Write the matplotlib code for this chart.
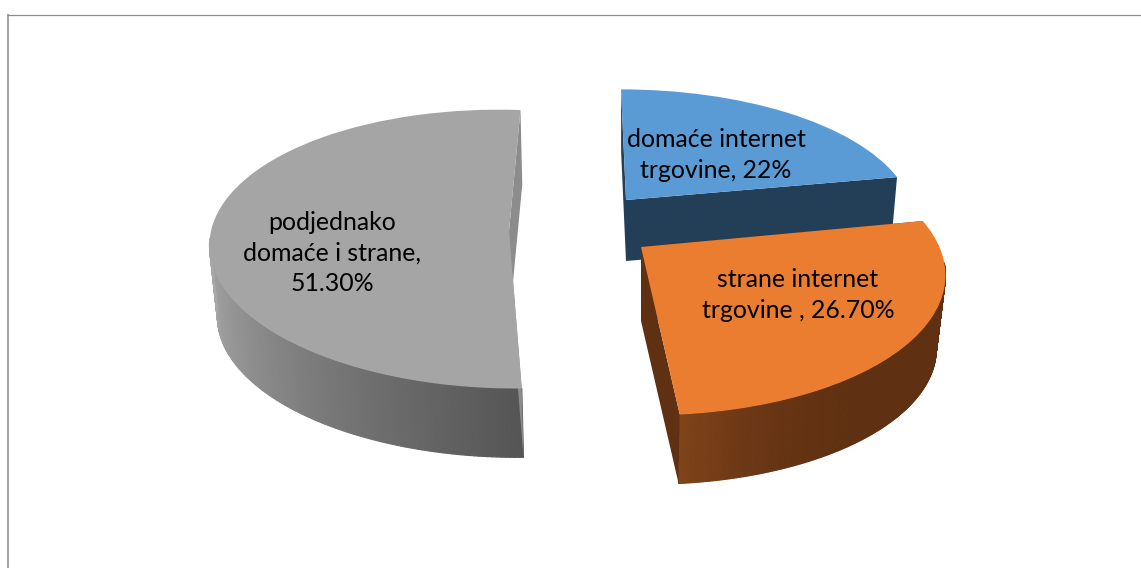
import numpy as np
import matplotlib
matplotlib.use("Agg")
import matplotlib.pyplot as plt
from matplotlib.collections import PolyCollection
from matplotlib.colors import to_rgb
from matplotlib.transforms import Transform

# --- data ---
categories = ["domaće internet\ntrgovine, 22%",
              "strane internet\ntrgovine , 26.70%",
              "podjednako\ndomaće i strane,\n51.30%"]
values = [22.0, 26.7, 51.3]

# --- styling / projection parameters (pixels) ---
top_colors = ["#5B9BD5", "#EB7D30", "#A5A5A5"]
cut_colors = ["#233F58", "#5F3012", "#8C8C8C"]
side_stops = [
    ["#233F58", "#233F58"],
    ["#5F3011", "#5F3011", "#5F3011", "#5F3011", "#5F3011", "#623212", "#6C3715", "#7E4319"],
    ["#555555", "#6A6A6A", "#808080", "#969696", "#A8A8A8"],
]
# cx, cy, a, c, d, b, k
projections = [
    (626, 200, 283.7, -5.6, 0.0, 125.0, 0.13),
    (641, 247, 298.0, -7.5, -1.0, 138.0, 0.18),
    (509, 231, 295.0, 13.0, 10.0, 136.7, 0.13),
]
# x offset, y offset, scale of the lower rim
lower = [(0, 61, 0.98), (0, 74, 0.97), (2, 72, 0.98)]
label_xy = [(716, 155), (798, 295), (332, 253)]
draw_order = [0, 2, 1]


def project(x, y, p):
    cx, cy, a, c, d, b, k = p
    w = 1 + k * y
    return cx + (a * x + c * y) / w, cy + (d * x - b * y) / w


class SliceTransform(Transform):
    input_dims = output_dims = 2
    has_inverse = False
    is_separable = False

    def __init__(self, p):
        super().__init__()
        self.p = p

    def transform_non_affine(self, values):
        v = np.asarray(values, dtype=float)
        return np.column_stack(project(v[:, 0], v[:, 1], self.p))


def ramp(stops, n):
    rgb = np.array([to_rgb(s) for s in stops])
    t = np.linspace(0, 1, n)
    grid = np.linspace(0, 1, len(stops))
    return np.column_stack([np.interp(t, grid, rgb[:, i]) for i in range(3)])


plt.rcParams["font.family"] = ["Lato", "DejaVu Sans"]
fig = plt.figure(figsize=(11.41, 5.68), dpi=100, facecolor="white")
ax = fig.add_axes([0, 0, 1, 1])
wedges, _ = ax.pie(values, colors=top_colors, startangle=90, counterclock=False,
                   wedgeprops={"linewidth": 0})
ax.set_aspect("auto")
ax.set_xlim(0, 1141)
ax.set_ylim(568, 0)
ax.axis("off")

edges = np.cumsum([0] + values) / sum(values) * 2 * np.pi
for rank, i in enumerate(draw_order):
    p = projections[i]
    ox, oy, s = lower[i]
    q = (p[0] + ox, p[1] + oy, p[2] * s, p[3] * s, p[4] * s, p[5] * s, p[6])
    th = np.linspace(edges[i], edges[i + 1], 240)
    th = th[np.cos(th) < -0.12]          # only the part of the rim facing the viewer
    base = 3 * rank + 1
    if len(th) > 1:
        tx, ty = project(np.sin(th), np.cos(th), p)
        bx, by = project(np.sin(th), np.cos(th), q)
        quads = [[(tx[j], ty[j]), (tx[j + 1], ty[j + 1]),
                  (bx[j + 1], by[j + 1]), (bx[j], by[j])] for j in range(len(th) - 1)]
        ax.add_collection(PolyCollection(quads, facecolors=ramp(side_stops[i], len(quads)),
                                         edgecolors="face", linewidths=0.8, zorder=base))
    for t in (edges[i], edges[i + 1]):
        ex, ey = project(np.sin(t), np.cos(t), p)
        fx, fy = project(np.sin(t), np.cos(t), q)
        ax.fill([p[0], ex, fx, q[0]], [p[1], ey, fy, q[1]], color=cut_colors[i],
                linewidth=0, zorder=base + 1)
    wedges[i].set_transform(SliceTransform(p) + ax.transData)
    wedges[i].set_zorder(base + 2)

for label, (x, y) in zip(categories, label_xy):
    ax.text(x, y, label, ha="center", va="center", fontsize=17.9, color="black",
            linespacing=1.42, zorder=20)

ax.plot([8, 8], [14, 568], color="#A6A6A6", lw=1.5, zorder=30, solid_capstyle="butt")
ax.plot([7, 1141], [14.5, 14.5], color="#8C8C8C", lw=0.9, zorder=30, solid_capstyle="butt")

fig.savefig("out.png", dpi=100)
